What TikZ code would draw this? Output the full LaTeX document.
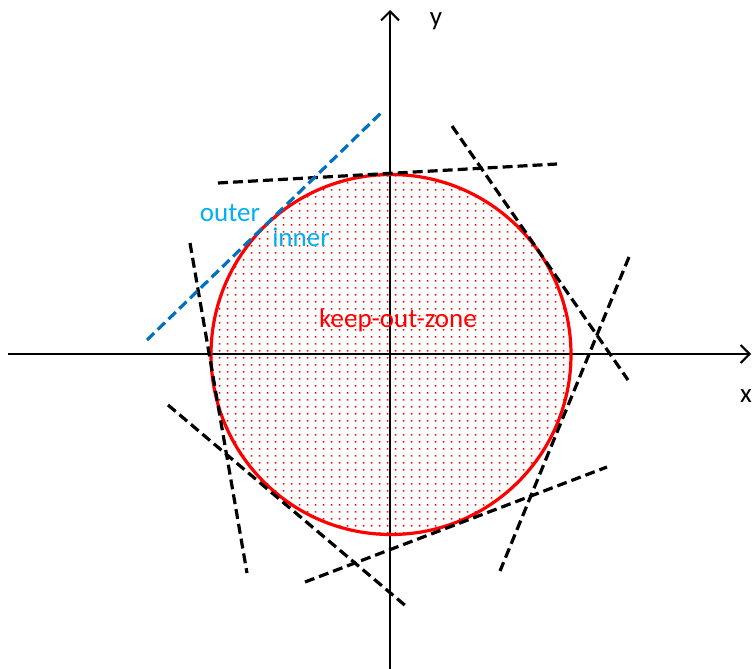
\documentclass[tikz,border=0pt]{standalone}
\usepackage{fontspec}
\setmainfont{Carlito}
\usetikzlibrary{arrows.meta,patterns}
\pgfdeclarepatternformonly{kozdots}{\pgfpointorigin}{\pgfpoint{8pt}{7pt}}{\pgfpoint{8pt}{7pt}}{\pgfpathrectangle{\pgfpoint{3.2pt}{2.8pt}}{\pgfpoint{1.6pt}{1.6pt}}\pgfusepath{fill}}
\definecolor{lblcyan}{RGB}{0,176,240}
\definecolor{lineblue}{RGB}{0,112,192}
\begin{document}
\begin{tikzpicture}[x=1pt,y=-1pt,
  tangent/.style={line width=3.2pt, dash pattern=on 10pt off 5pt},
  axis/.style={line width=2pt, -{Straight Barb[length=9pt,width=18pt,line width=2pt]}},
  lbl/.style={font=\fontsize{27}{30}\selectfont, inner sep=0pt}]
\useasboundingbox (0,0) rectangle (752,669);
\coordinate (O) at (391,354.5);
\fill[pattern=kozdots, pattern color=red] (O) circle[radius=180pt];
% axes
\coordinate (xs) at (8,354);
\coordinate (xe) at (751,354);
\coordinate (ys) at (390,669);
\coordinate (ye) at (390,10);
\draw[axis] (xs) -- (xe);
\draw[axis] (ys) -- (ye);
\node[lbl, anchor=center] (xl) at (746,396) {x};
\node[lbl, anchor=center] (yl) at (436,21) {y};
% keep-out-zone circle
\draw[red, line width=3.2pt] (O) circle[radius=180pt];
\node[lbl, text=red] (koz) at (398,320) {keep-out-zone};
% tangent lines
\coordinate (t1a) at (218,183); \coordinate (t1b) at (557,164);
\coordinate (t2a) at (452,126); \coordinate (t2b) at (628,380);
\coordinate (t3a) at (629,257); \coordinate (t3b) at (500,571);
\coordinate (t4a) at (305,582); \coordinate (t4b) at (607,467);
\coordinate (t5a) at (168,405); \coordinate (t5b) at (407,607);
\coordinate (t6a) at (190,243); \coordinate (t6b) at (247,573);
\draw[tangent] (t1a) -- (t1b);
\draw[tangent] (t2a) -- (t2b);
\draw[tangent] (t3a) -- (t3b);
\draw[tangent] (t4a) -- (t4b);
\draw[tangent] (t5a) -- (t5b);
\draw[tangent] (t6a) -- (t6b);
% blue line
\coordinate (ba) at (147,340); \coordinate (bb) at (383,111);
\draw[tangent, lineblue] (ba) -- (bb);
\node[lbl, text=lblcyan] (outer) at (230,213) {outer};
\node[lbl, text=lblcyan] (inner) at (301,237) {inner};
\end{tikzpicture}
\end{document}
